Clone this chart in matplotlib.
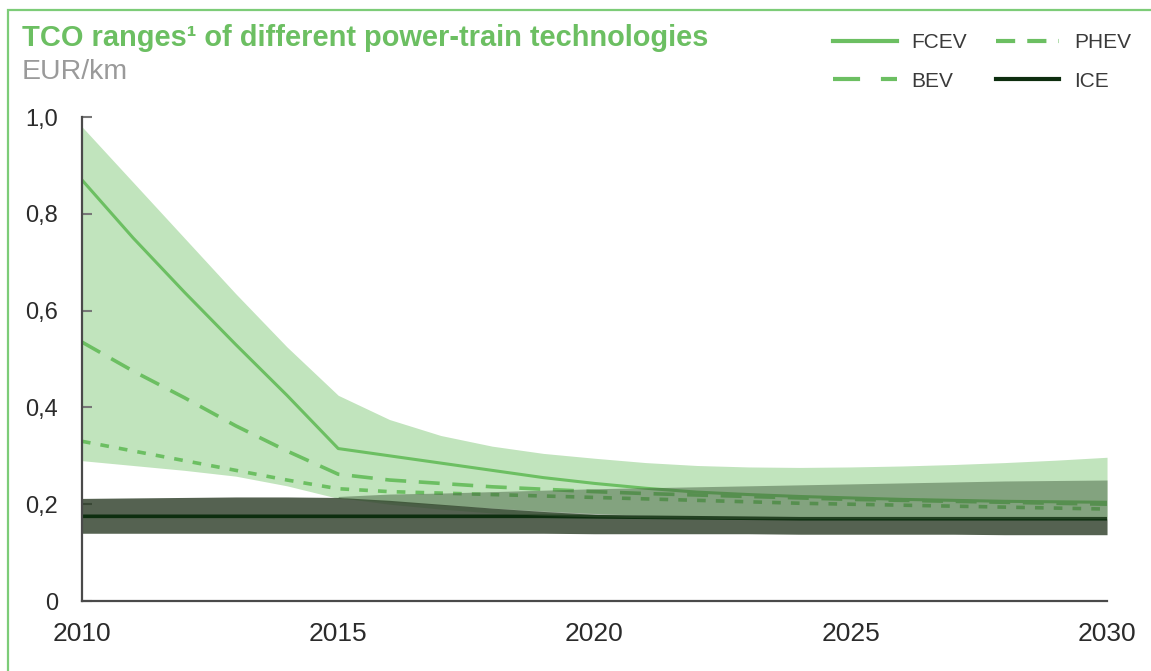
import matplotlib
matplotlib.use("Agg")
import matplotlib.pyplot as plt
from matplotlib.lines import Line2D
from matplotlib.patches import Rectangle

plt.rcParams["font.family"] = ["Liberation Sans", "DejaVu Sans"]

TITLE = "TCO ranges\u00b9 of different power-train technologies"
UNIT = "EUR/km"

YEARS = list(range(2010, 2031))
X_TICKS = [2010, 2015, 2020, 2025, 2030]
Y_TICKS = [0, 0.2, 0.4, 0.6, 0.8, 1.0]
Y_TICK_LABELS = ["0", "0,2", "0,4", "0,6", "0,8", "1,0"]

# central lines
FCEV = [0.87, 0.750, 0.638, 0.530, 0.425, 0.315, 0.300, 0.285, 0.270, 0.255, 0.243,
        0.233, 0.225, 0.220, 0.216, 0.213, 0.210, 0.208, 0.206, 0.205, 0.204]
BEV = [0.535, 0.475, 0.420, 0.362, 0.310, 0.262, 0.250, 0.243, 0.236, 0.231, 0.226,
       0.222, 0.219, 0.216, 0.213, 0.210, 0.208, 0.206, 0.204, 0.202, 0.200]
PHEV = [0.330, 0.310, 0.290, 0.270, 0.250, 0.232, 0.226, 0.223, 0.220, 0.217, 0.214,
        0.211, 0.208, 0.205, 0.202, 0.200, 0.198, 0.196, 0.194, 0.192, 0.190]
ICE = [0.175, 0.175, 0.175, 0.175, 0.175, 0.175, 0.175, 0.175, 0.175, 0.175, 0.174,
       0.173, 0.172, 0.171, 0.170, 0.170, 0.170, 0.170, 0.170, 0.170, 0.170]

# ranges
EV_UPPER = [0.980, 0.865, 0.750, 0.635, 0.525, 0.425, 0.375, 0.342, 0.320, 0.305, 0.295,
            0.286, 0.280, 0.277, 0.276, 0.277, 0.279, 0.282, 0.286, 0.291, 0.297]
EV_LOWER = [0.290, 0.280, 0.270, 0.258, 0.238, 0.212, 0.205, 0.198, 0.192, 0.186, 0.181,
            0.177, 0.174, 0.172, 0.171, 0.170, 0.170, 0.170, 0.170, 0.170, 0.170]
ICE_UPPER = [0.212, 0.213, 0.214, 0.215, 0.215, 0.214, 0.208, 0.200, 0.192, 0.185, 0.179,
             0.175, 0.173, 0.172, 0.171, 0.170, 0.170, 0.170, 0.170, 0.170, 0.170]
ICE_LOWER = [0.140, 0.140, 0.140, 0.140, 0.140, 0.140, 0.140, 0.140, 0.140, 0.140, 0.139,
             0.139, 0.139, 0.139, 0.138, 0.138, 0.138, 0.138, 0.137, 0.137, 0.137]
MID_YEARS = list(range(2015, 2031))
MID_UPPER = [0.216, 0.221, 0.223, 0.226, 0.229, 0.232, 0.234, 0.236, 0.238, 0.240,
             0.242, 0.244, 0.246, 0.248, 0.249, 0.250]
MID_LOWER = [0.214, 0.200, 0.190, 0.182, 0.177, 0.174, 0.172, 0.171, 0.170, 0.170,
             0.170, 0.170, 0.170, 0.170, 0.170, 0.170]

GREEN = "#6cbf62"
DARK = "#0d2e0f"

fig = plt.figure(figsize=(11.51, 6.71), dpi=100)
ax = fig.add_axes([0.0712, 0.1043, 0.8906, 0.7213])

ax.fill_between(YEARS, EV_LOWER, EV_UPPER, color=GREEN, alpha=0.42, lw=0, zorder=1)
ax.plot(YEARS, FCEV, color=GREEN, lw=2.2, zorder=1.5)
ax.plot(YEARS, BEV, color=GREEN, lw=2.6, dashes=(5.8, 3.5), zorder=1.5)
ax.plot(YEARS, PHEV, color=GREEN, lw=2.6, dashes=(2.4, 2.8), zorder=1.5)
ax.fill_between(YEARS, ICE_LOWER, ICE_UPPER, color="#2a3b25", alpha=0.8, lw=0, zorder=2)
ax.plot(YEARS, ICE, color=DARK, lw=2.6, zorder=2.5)
ax.fill_between(MID_YEARS, MID_LOWER, MID_UPPER, color="#3f5a3a", alpha=0.47, lw=0, zorder=3)

ax.set_xlim(2010, 2030)
ax.set_ylim(0, 1.0)
ax.set_xticks(X_TICKS)
ax.set_xticklabels([str(x) for x in X_TICKS], fontsize=19, color="#2b2b2b")
ax.set_yticks(Y_TICKS)
ax.set_yticklabels(Y_TICK_LABELS, fontsize=17, color="#2b2b2b")
ax.tick_params(axis="x", length=0, pad=15)
ax.tick_params(axis="y", direction="in", length=7, width=1.5, color="#777777", pad=17)

for side in ["top", "right"]:
    ax.spines[side].set_visible(False)
for side in ["left", "bottom"]:
    ax.spines[side].set_color("#4a4a4a")
    ax.spines[side].set_linewidth(1.6)
ax.spines["left"].set_zorder(5)

fig.text(22 / 1151, 1 - 46 / 671, TITLE, fontsize=20.9, fontweight="bold",
         color=GREEN, ha="left", va="baseline")
fig.text(22 / 1151, 1 - 79 / 671, UNIT, fontsize=20.5, color="#9a9a9a",
         ha="left", va="baseline")

handles = [
    Line2D([], [], color=GREEN, lw=3),
    Line2D([], [], color=GREEN, lw=3, dashes=(6.5, 5)),
    Line2D([], [], color=GREEN, lw=3, dashes=(4.6, 2.9, 4.6, 2.9, 1.1, 4)),
    Line2D([], [], color=DARK, lw=3),
]
labels = ["FCEV", "BEV", "PHEV", "ICE"]
fig.legend(handles, labels, loc="upper left", bbox_to_anchor=(833 / 1151, 1 - 33 / 671),
           ncol=2, frameon=False, fontsize=15, handlelength=3.05, handletextpad=0.7,
           columnspacing=1.4, labelspacing=0.95, borderpad=0, borderaxespad=0,
           labelcolor="#3a3a3a")

fig.patches.append(Rectangle((8 / 1151, -0.1), 1.2, 1.1 - 10 / 671, transform=fig.transFigure,
                             fill=False, edgecolor="#7dcc78", lw=1.6))

fig.savefig("out.png", dpi=100)
